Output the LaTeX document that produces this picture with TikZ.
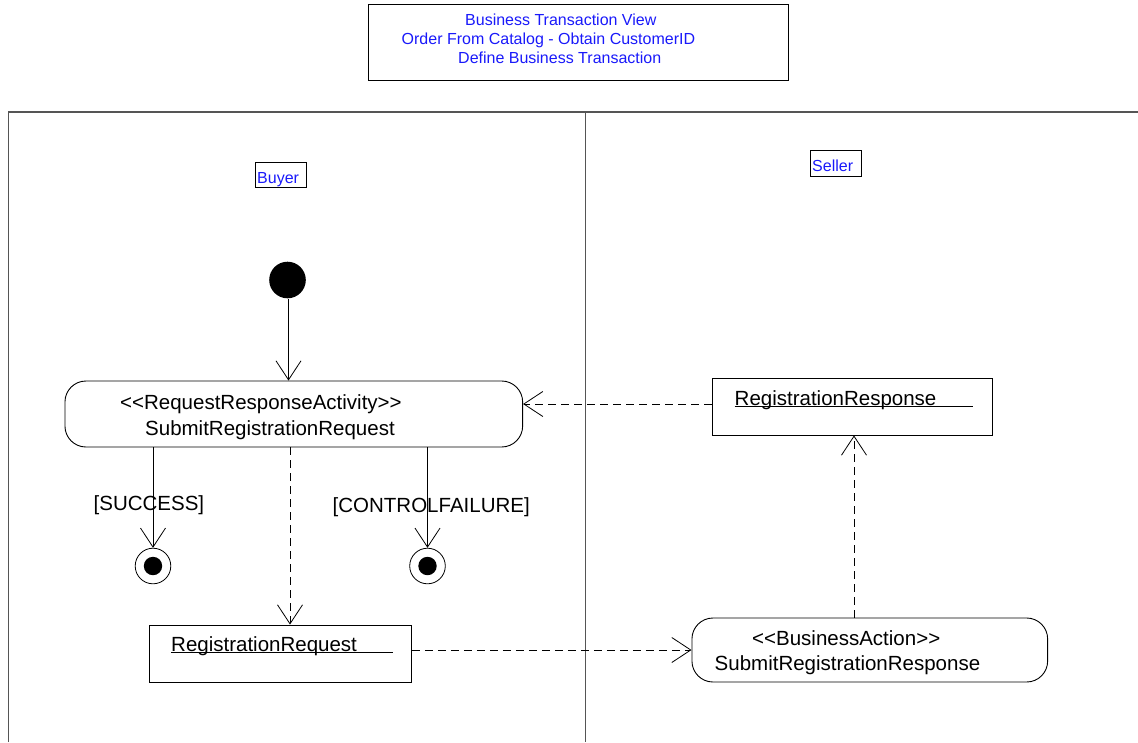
\documentclass[tikz,border=0pt]{standalone}
\usepackage{fontspec}
\setmainfont{Liberation Sans}
\usetikzlibrary{arrows.meta}
\definecolor{lblue}{RGB}{25,25,250}
\definecolor{lanegray}{RGB}{85,85,85}
\begin{document}
\begin{tikzpicture}[x=1pt,y=-1pt,
  lane/.style={draw=lanegray,line width=1.3pt},
  objbox/.style={draw,line width=0.9pt,rectangle,inner sep=0},
  actbox/.style={draw,line width=0.9pt,rectangle,rounded corners=21pt,inner sep=0},
  lbl/.style={inner sep=0,anchor=base west,font=\fontsize{20.5}{24}\selectfont},
  ttl/.style={inner sep=0,anchor=base west,text=lblue,font=\fontsize{16}{19}\selectfont},
  conn/.style={line width=0.8pt,-{Straight Barb[length=19pt,width=25pt]}},
  flow/.style={conn,dash pattern=on 8pt off 5pt},
  initst/.style={circle,fill=black,minimum size=36.6pt,inner sep=0},
  finalst/.style={circle,draw,line width=0.8pt,minimum size=35.6pt,inner sep=0,
    path picture={\fill (path picture bounding box.center) circle (9.2pt);}}]
\useasboundingbox (0,0) rectangle (1138,742);

% heading
\node[draw,line width=0.9pt,minimum width=420pt,minimum height=76pt,inner sep=0] (head) at (578,42) {};
\node[ttl] (h1) at (465,25) {Business Transaction View};
\node[ttl] (h2) at (401.5,44) {Order From Catalog - Obtain CustomerID};
\node[ttl] (h3) at (458,63) {Define Business Transaction};

% swimlanes
\draw[lane] (8.5,742) -- (8.5,112) -- (1138,112);
\draw[lane] (585.5,112) -- (585.5,742);
\node[draw,line width=0.9pt,minimum width=51.7pt,minimum height=25pt,inner sep=0] (buyerbox) at (281,175.2) {};
\node[ttl] (buyer) at (257,183) {Buyer};
\node[draw,line width=0.9pt,minimum width=51.5pt,minimum height=26pt,inner sep=0] (sellerbox) at (835.7,163) {};
\node[ttl] (seller) at (812,171) {Seller};

% states
\node[initst] (init) at (287.5,280) {};
\node[actbox,minimum width=457.7pt,minimum height=66pt] (req) at (293.8,414) {};
\node[lbl] (reqa) at (120,409) {<{}<RequestResponseActivity>{}>};
\node[lbl] (reqb) at (145,435) {SubmitRegistrationRequest};
\node[finalst] (fin1) at (153,566) {};
\node[finalst] (fin2) at (427.5,566) {};

\node[objbox,minimum width=262pt,minimum height=57pt] (rreq) at (280.5,653.5) {};
\node[lbl] (rreqt) at (171,651) {RegistrationRequest};
\draw[line width=0.8pt] ([yshift=-1.8pt]rreqt.base west) -- ([yshift=-1.8pt]rreqt.base west -| 392.6,0);

\node[actbox,minimum width=355.7pt,minimum height=64pt] (sresp) at (869.8,650) {};
\node[lbl] (srespa) at (752,645) {<{}<BusinessAction>{}>};
\node[lbl] (srespb) at (714.5,670) {SubmitRegistrationResponse};

\node[objbox,minimum width=280pt,minimum height=57pt] (rresp) at (852,406.5) {};
\node[lbl] (rrespt) at (734.5,405) {RegistrationResponse};
\draw[line width=0.8pt] ([yshift=-1.8pt]rrespt.base west) -- ([yshift=-1.8pt]rrespt.base west -| 973,0);

% guards
\node[lbl] (gs) at (93.5,510) {[SUCCESS]};
\node[lbl] (gf) at (332.5,512) {[CONTROLFAILURE]};

% transitions
\draw[conn] ([xshift=1pt]init.south) -- ([xshift=1pt]init |- req.north);
\draw[conn] (req.south -| fin1) -- (fin1.north);
\draw[conn] (req.south -| fin2) -- (fin2.north);

% object flows
\draw[flow] ([xshift=9.5pt]rreq.north |- req.south) -- ([xshift=9.5pt]rreq.north);
\draw[flow] (rreq.east |- sresp.west) -- (sresp.west);
\draw[flow] ([xshift=2pt]rresp.south |- sresp.north) -- ([xshift=2pt]rresp.south);
\draw[flow] ([yshift=2.5pt]rresp.west) -- ([yshift=2.5pt]rresp.west -| req.east);
\end{tikzpicture}
\end{document}
